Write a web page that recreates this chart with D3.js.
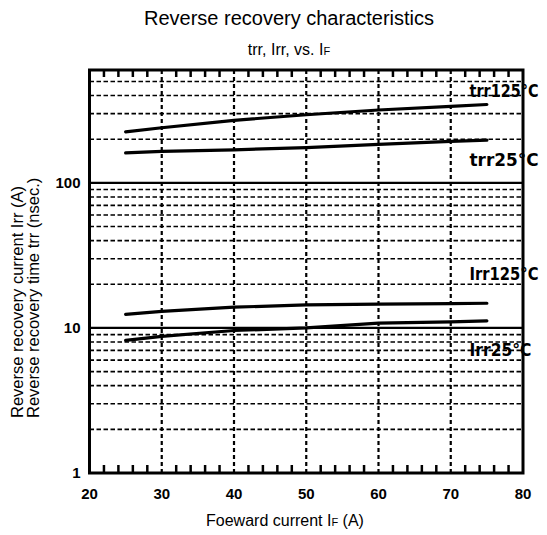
<!DOCTYPE html>
<html>
<head>
<meta charset="utf-8">
<script src="https://cdn.jsdelivr.net/npm/d3@7"></script>
<style>
    body { margin: 0; background: #fff; }
    text { font-family: "Liberation Sans", Arial, sans-serif; fill: #000; }
</style>
</head>
<body>
<svg id="dessin" width="547" height="535"></svg>
<script>
// valeurs (IF en A)
const courant = [25, 30, 40, 50, 60, 70, 75];
const trr125 = [225, 240, 270, 295, 318, 337, 347];
const trr25 = [161, 165, 169, 175, 184, 193, 197];
const irr125 = [12.4, 13.0, 13.9, 14.4, 14.6, 14.7, 14.8];
const irr25 = [8.2, 8.75, 9.6, 10.0, 10.8, 11.0, 11.2];

const xTicks = [20, 30, 40, 50, 60, 70, 80];
const yTicks = [1, 10, 100];
const nomsCourbes = ["trr125°C", "trr25°C", "Irr125°C", "Irr25°C"];

const svg = d3.select("#dessin");
const margin = { top: 70, right: 24, bottom: 62, left: 89.5 };
const W = 547, H = 535;

const x = d3.scaleLinear().domain([20, 80]).range([margin.left, W - margin.right]);
const y = d3.scaleLog().domain([1, 600]).range([H - margin.bottom, margin.top]);

// grille horizontale (pointillés pour les sous-graduations)
let mineurs = [];
[1, 10, 100].forEach(dec => {
    for (let k = 2; k <= 9; k++) {
        if (dec * k < 600) mineurs.push(dec * k);
    }
});

svg.append("g")
    .selectAll("line")
    .data(mineurs)
    .enter()
    .append("line")
    .attr("x1", x(20))
    .attr("x2", x(80))
    .attr("y1", d => y(d))
    .attr("y2", d => y(d))
    .style("stroke", "#000")
    .style("stroke-width", 1.6)
    .style("stroke-dasharray", "4.5,2.5");

svg.append("g")
    .selectAll("line")
    .data([10, 100])
    .enter()
    .append("line")
    .attr("x1", x(20))
    .attr("x2", x(80))
    .attr("y1", d => y(d))
    .attr("y2", d => y(d))
    .style("stroke", "#000")
    .style("stroke-width", 2.2);

// grille verticale
svg.append("g")
    .selectAll("line")
    .data(xTicks.slice(1, -1))
    .enter()
    .append("line")
    .attr("x1", d => x(d))
    .attr("x2", d => x(d))
    .attr("y1", y(600))
    .attr("y2", y(1))
    .style("stroke", "#000")
    .style("stroke-width", 2.2)
    .style("stroke-dasharray", "4,3");

// petites graduations haut et bas
const petits = d3.range(22, 80, 2).filter(d => d % 10 != 0);
svg.append("g")
    .selectAll("line")
    .data(petits)
    .enter()
    .append("line")
    .attr("x1", d => x(d))
    .attr("x2", d => x(d))
    .attr("y1", y(1))
    .attr("y2", y(1) - 8)
    .style("stroke", "#000")
    .style("stroke-width", 2.5);

svg.append("g")
    .selectAll("line")
    .data(petits)
    .enter()
    .append("line")
    .attr("x1", d => x(d))
    .attr("x2", d => x(d))
    .attr("y1", y(600))
    .attr("y2", y(600) + 7)
    .style("stroke", "#000")
    .style("stroke-width", 2.5);

// cadre
svg.append("rect")
    .attr("x", x(20))
    .attr("y", y(600))
    .attr("width", x(80) - x(20))
    .attr("height", y(1) - y(600))
    .style("fill", "none")
    .style("stroke", "#000")
    .style("stroke-width", 3);

// courbes
const series = [trr125, trr25, irr125, irr25];
const ligne = d3.line()
    .x(d => x(d[0]))
    .y(d => y(d[1]));

svg.append("g")
    .selectAll("path")
    .data(series)
    .enter()
    .append("path")
    .attr("d", s => ligne(courant.map((c, i) => [c, s[i]])))
    .style("fill", "none")
    .style("stroke", "#000")
    .style("stroke-width", 3.2)
    .style("stroke-linecap", "round");

// noms des courbes
const posNoms = [428, 145, 23.6, 7.1];
svg.append("g")
    .selectAll("text")
    .data(nomsCourbes)
    .enter()
    .append("text")
    .attr("x", x(72.6))
    .attr("y", (d, i) => y(posNoms[i]))
    .attr("dy", "0.36em")
    .attr("textLength", (d, i) => i == 3 ? 62 : 69)
    .attr("lengthAdjust", "spacingAndGlyphs")
    .style("font-family", "'Liberation Sans Narrow', 'DejaVu Sans Condensed', sans-serif")
    .style("font-weight", "bold")
    .style("font-size", "17px")
    .text(d => d);

// libellés des axes
svg.append("g")
    .selectAll("text")
    .data(xTicks)
    .enter()
    .append("text")
    .attr("x", d => x(d))
    .attr("y", y(1) + 26)
    .attr("text-anchor", "middle")
    .style("font-weight", "bold")
    .style("font-size", "15px")
    .text(d => d);

svg.append("g")
    .selectAll("text")
    .data(yTicks)
    .enter()
    .append("text")
    .attr("x", x(20) - 9)
    .attr("y", d => y(d))
    .attr("dy", "0.36em")
    .attr("text-anchor", "end")
    .style("font-weight", "bold")
    .style("font-size", "15px")
    .text(d => d);

// titres
svg.append("text")
    .attr("x", 289)
    .attr("y", 25)
    .attr("text-anchor", "middle")
    .style("font-size", "20px")
    .text("Reverse recovery characteristics");

const sousTitre = svg.append("text")
    .attr("x", 289)
    .attr("y", 55)
    .attr("text-anchor", "middle")
    .style("font-size", "16px");
sousTitre.append("tspan").text("trr, Irr, vs. I");
sousTitre.append("tspan").style("font-size", "11px").text("F");

const titreX = svg.append("text")
    .attr("x", 285)
    .attr("y", 526)
    .attr("text-anchor", "middle")
    .style("font-size", "16px");
titreX.append("tspan").text("Foeward current  I");
titreX.append("tspan").style("font-size", "11px").text("F");
titreX.append("tspan").text(" (A)");

svg.append("text")
    .attr("transform", "translate(23,418) rotate(-90)")
    .style("font-size", "16.5px")
    .text("Reverse recovery current  Irr  (A)");

svg.append("text")
    .attr("transform", "translate(39,418) rotate(-90)")
    .style("font-size", "16.5px")
    .text("Reverse recovery time  trr  (nsec.)");
</script>
</body>
</html>
